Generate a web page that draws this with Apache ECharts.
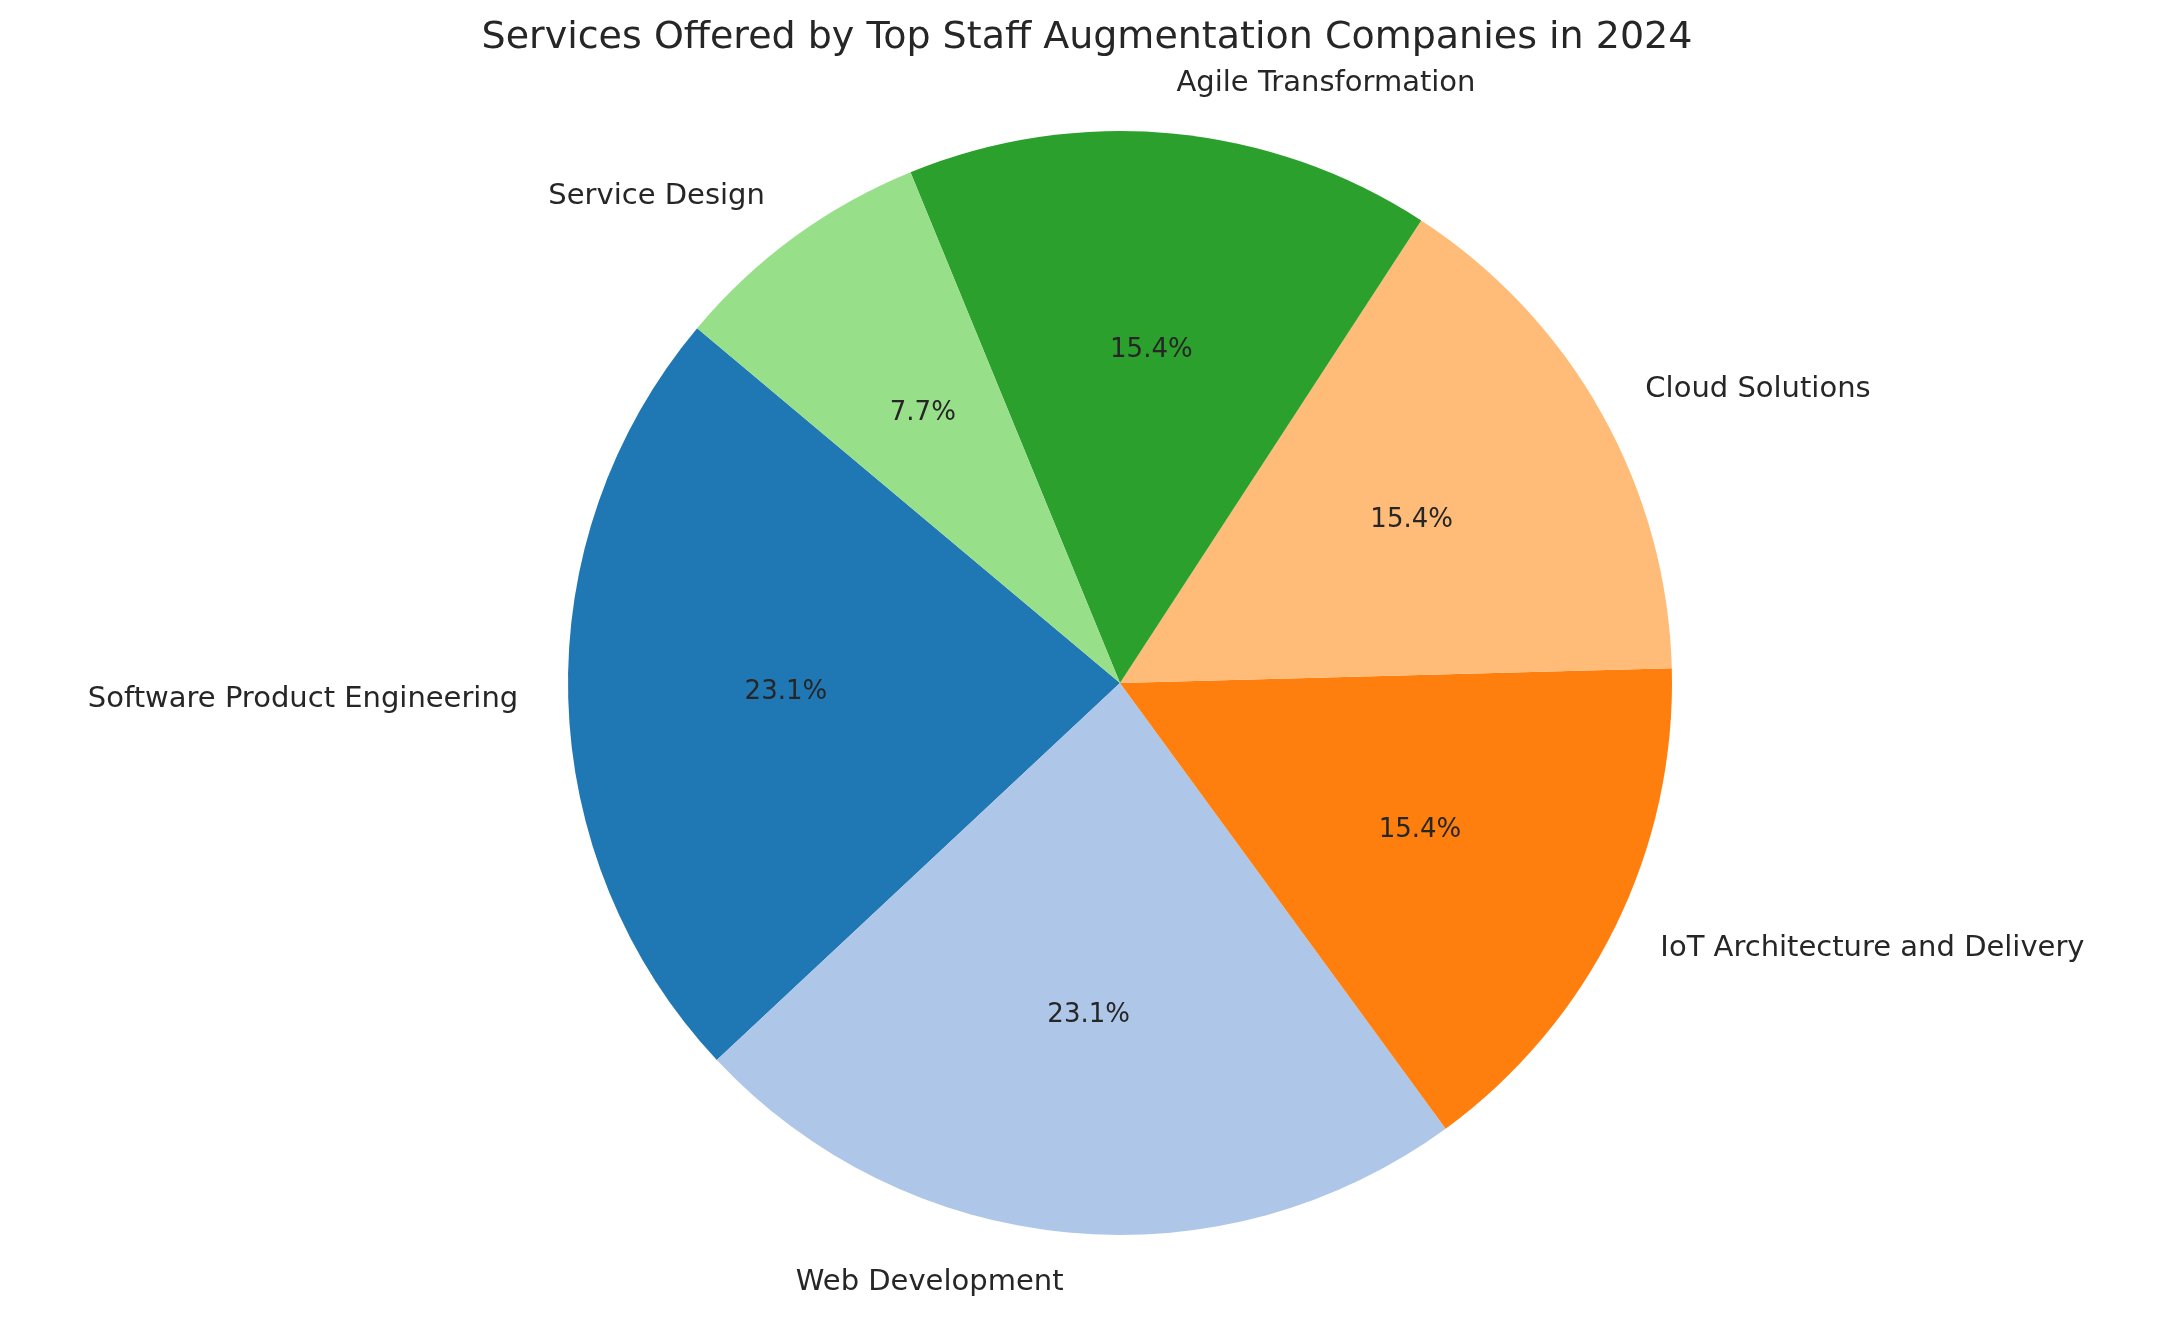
<!DOCTYPE html>
<html>
<head>
<meta charset="utf-8">
<script src="https://cdn.jsdelivr.net/npm/echarts@6/dist/echarts.min.js"></script>
<style>html,body{margin:0;padding:0;background:#fff}#main{width:2174px;height:1325px}</style>
</head>
<body>
<div id="main"></div>
<script>
// services and counts, counter-clockwise from the start angle
var categories = ['Software Product Engineering', 'Web Development', 'IoT Architecture and Delivery',
    'Cloud Solutions', 'Agile Transformation', 'Service Design'];
var counts = [3, 3, 2, 2, 2, 1];
var colors = ['#1f77b4', '#aec7e8', '#ff7f0e', '#ffbb78', '#2ca02c', '#98df8a'];

var total = counts.reduce(function (a, b) { return a + b; }, 0);
var pieData = [];
var pctData = [];
for (var i = 0; i < categories.length; i++) {
    pieData.push({ name: categories[i], value: counts[i], itemStyle: { color: colors[i] } });
    pctData.push({ name: categories[i], value: counts[i] });
}

var R = 552;
var center = [1120, 683];
var myChart = echarts.init(document.getElementById('main'));
myChart.setOption({
    animation: false,
    title: {
        text: 'Services Offered by Top Staff Augmentation Companies in 2024',
        left: 'center',
        top: 14,
        textStyle: { fontFamily: 'DejaVu Sans', fontSize: 38, fontWeight: 'normal', color: '#262626' }
    },
    series: [
        {
            type: 'pie',
            center: center,
            radius: [0, R],
            startAngle: 140,
            clockwise: false,
            data: pieData,
            label: {
                position: 'outside',
                fontFamily: 'DejaVu Sans',
                fontSize: 29,
                color: '#262626',
                distanceToLabelLine: 0
            },
            labelLine: { show: false, length: 50, length2: 0 },
            emphasis: { disabled: true }
        },
        {
            type: 'pie',
            center: center,
            radius: [R * 0.2, R],
            startAngle: 140,
            clockwise: false,
            silent: true,
            data: pctData,
            itemStyle: { color: 'rgba(0,0,0,0)' },
            label: {
                position: 'inside',
                fontFamily: 'DejaVu Sans',
                fontSize: 26,
                color: '#262626',
                formatter: function (p) { return (p.value / total * 100).toFixed(1) + '%'; }
            },
            emphasis: { disabled: true }
        }
    ]
});
</script>
</body>
</html>
